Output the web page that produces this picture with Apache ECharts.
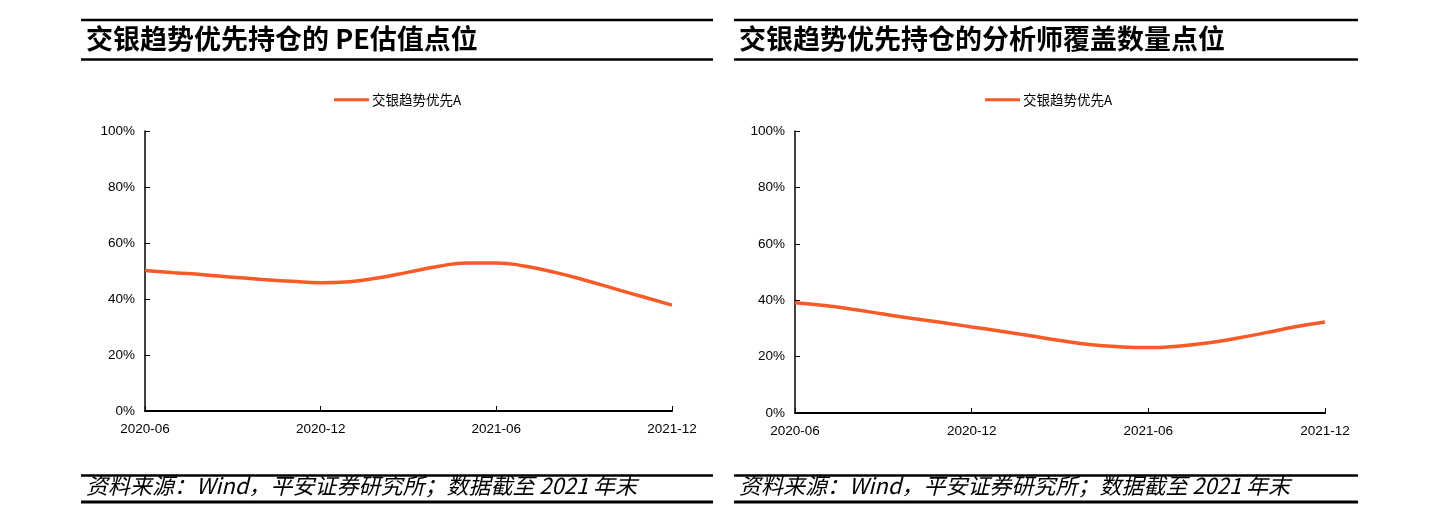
<!DOCTYPE html>
<html>
<head>
<meta charset="utf-8">
<script src="https://cdn.jsdelivr.net/npm/echarts@6/dist/echarts.min.js"></script>
<style>
html,body{margin:0;padding:0;background:#fff;}
#c{width:1455px;height:522px;}
</style>
</head>
<body>
<div id="c"></div>
<script>
// ---- data ----
const months = ['2020-06','2020-07','2020-08','2020-09','2020-10','2020-11','2020-12',
  '2021-01','2021-02','2021-03','2021-04','2021-05','2021-06',
  '2021-07','2021-08','2021-09','2021-10','2021-11','2021-12'];
const seriesName = '交银趋势优先A';
const pePct = [50.2,49.4,48.7,47.8,47.0,46.3,45.8,46.2,47.6,49.6,51.6,52.9,52.9,51.7,49.5,46.8,43.8,40.8,37.8];
const analystPct = [39.1,38.1,36.7,35.1,33.5,32.1,30.5,29.0,27.4,25.7,24.3,23.5,23.2,23.7,24.8,26.5,28.5,30.6,32.3];
const yTicks = [0,20,40,60,80,100];
const titleLeft = '交银趋势优先持仓的 PE估值点位';
const titleRight = '交银趋势优先持仓的分析师覆盖数量点位';
const sourceText = '资料来源：Wind，平安证券研究所；数据截至 2021 年末';

const LINE = '#F85A28';
const CJK = '"Noto Sans CJK SC", "Liberation Sans", sans-serif';
const LAT = '"Liberation Sans", Arial, sans-serif';

const chart = echarts.init(document.getElementById('c'), null, {renderer:'canvas'});

function xAxis(gi){
  return {
    type:'category', gridIndex:gi, data:months, boundaryGap:false,
    axisLine:{lineStyle:{color:'#000',width:2}},
    axisTick:{inside:true,length:5,interval:5,lineStyle:{color:'#000',width:1}},
    axisLabel:{interval:5,margin:11,color:'#000',fontSize:13.5,fontFamily:LAT},
    splitLine:{show:false}
  };
}
function yAxis(gi){
  return {
    type:'value', gridIndex:gi, min:yTicks[0], max:yTicks[yTicks.length-1], interval:20,
    axisLine:{show:true,lineStyle:{color:'#000',width:1.5}},
    axisTick:{show:true,inside:true,length:5,lineStyle:{color:'#000',width:1}},
    axisLabel:{formatter:'{value}%',margin:10,color:'#000',fontSize:13.5,fontFamily:LAT},
    splitLine:{show:false}
  };
}
function panelLines(x1,x2){
  return [
    {type:'line',shape:{x1:x1,y1:20,x2:x2,y2:20},style:{stroke:'#000',lineWidth:2.5}},
    {type:'line',shape:{x1:x1,y1:59.5,x2:x2,y2:59.5},style:{stroke:'#000',lineWidth:2.5}},
    {type:'line',shape:{x1:x1,y1:475.5,x2:x2,y2:475.5},style:{stroke:'#000',lineWidth:2.5}},
    {type:'line',shape:{x1:x1,y1:502,x2:x2,y2:502},style:{stroke:'#000',lineWidth:3}}
  ];
}
function legendFor(name,left){
  return {data:[name], left:left, top:88, icon:'rect', itemWidth:35, itemHeight:3, itemGap:4,
    formatter:function(n){return n.trim();},
    textStyle:{fontFamily:CJK,fontSize:13.5,color:'#000',padding:[0,0,0,-2]}};
}

const option = {
  animation:false,
  backgroundColor:'#fff',
  title:[
    {text:titleLeft,left:86,top:25,padding:0,textStyle:{fontFamily:CJK,fontSize:27,fontWeight:'bold',color:'#000'}},
    {text:titleRight,left:739,top:25,padding:0,textStyle:{fontFamily:CJK,fontSize:27,fontWeight:'bold',color:'#000'}},
    {text:sourceText,left:86,top:475,padding:0,textStyle:{fontFamily:CJK,fontSize:22,fontStyle:'italic',fontWeight:'normal',color:'#000'}},
    {text:sourceText,left:739,top:475,padding:0,textStyle:{fontFamily:CJK,fontSize:22,fontStyle:'italic',fontWeight:'normal',color:'#000'}}
  ],
  legend:[legendFor(seriesName,329), legendFor(seriesName+' ',980)],
  grid:[
    {left:145, right:1455-672, top:131, bottom:522-411, containLabel:false},
    {left:795, right:1455-1325, top:131, bottom:522-413, containLabel:false}
  ],
  xAxis:[xAxis(0),xAxis(1)],
  yAxis:[yAxis(0),yAxis(1)],
  series:[
    {name:seriesName,type:'line',xAxisIndex:0,yAxisIndex:0,data:pePct,smooth:0.5,showSymbol:false,
     lineStyle:{color:LINE,width:3.5},itemStyle:{color:LINE}},
    {name:seriesName+' ',type:'line',xAxisIndex:1,yAxisIndex:1,data:analystPct,smooth:0.5,showSymbol:false,
     lineStyle:{color:LINE,width:3.5},itemStyle:{color:LINE}}
  ],
  graphic:[].concat(panelLines(81,713),panelLines(734,1358))
};
chart.setOption(option);
</script>
</body>
</html>
